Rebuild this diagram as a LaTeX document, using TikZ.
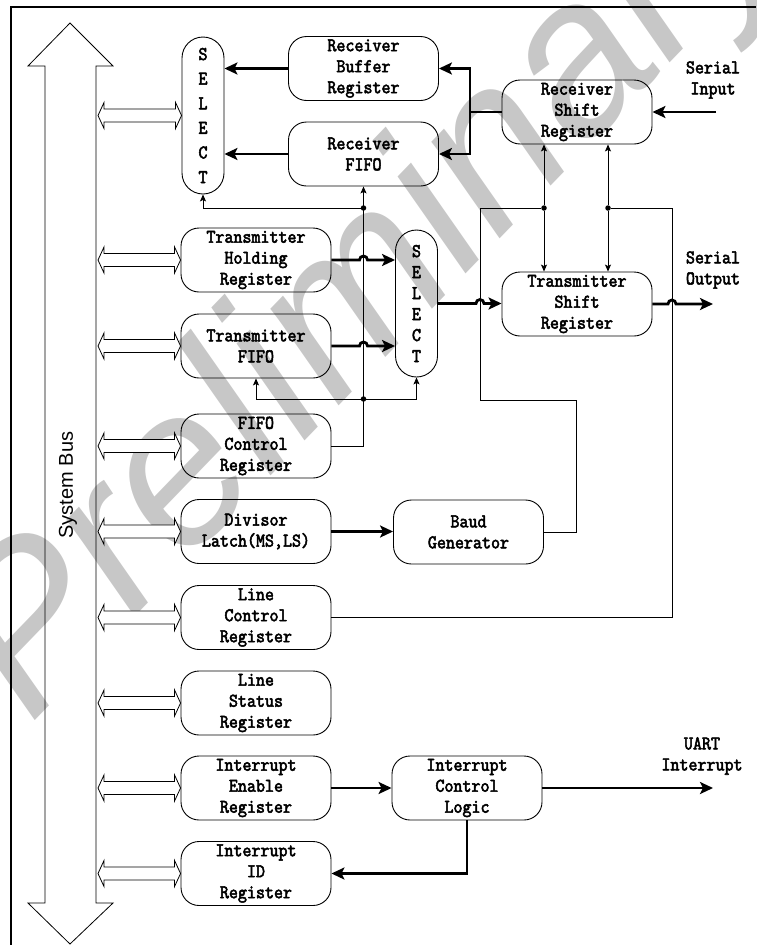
\documentclass[tikz,border=0pt]{standalone}
\usepackage{fontspec}
\setsansfont{Liberation Sans}
\newfontfamily\regfont{lmmono10-regular.otf}[FakeStretch=0.88,FakeBold=2.6]
\usetikzlibrary{arrows.meta,calc}

\tikzset{
  reg/.style={draw, line width=0.9pt, rounded corners=18pt, minimum width=150pt,
    minimum height=64pt, inner sep=0pt, align=center,
    font=\regfont\fontsize{19.5}{21}\selectfont},
  selbox/.style={reg, rounded corners=21pt, minimum width=42pt},
  lbl/.style={align=center, inner sep=0pt, font=\regfont\fontsize{19.5}{21}\selectfont},
  bigline/.style={line width=2.8pt},
  bigtip/.tip={Stealth[length=13pt,width=12pt,inset=3pt]},
  bigarrow/.style={bigline, -bigtip},
  thinline/.style={line width=0.8pt},
  thinarrow/.style={thinline, -{Stealth[length=7pt,width=6pt,inset=1.5pt]}},
  dot/.style={circle, fill, inner sep=0pt, minimum size=5.5pt}
}

\begin{document}
\begin{tikzpicture}[x=1pt,y=-1pt]
\useasboundingbox (0,0) rectangle (756,945);
% watermark
\node[text=black!22, font=\sffamily\itshape\fontsize{220}{220}\selectfont, rotate=46] (wmark) at (372,290) {Preliminary};
% frame
\draw[line width=2pt] (11,945) -- (11,7) -- (756,7);
% system bus
\draw[line width=0.8pt] (70,23) -- (113,66) -- (96,66) -- (96,903) -- (113,903) -- (70,944)
  -- (28,903) -- (45,903) -- (45,66) -- (28,66) -- cycle;
\node[font=\sffamily\fontsize{20}{20}\selectfont, rotate=90] (buslbl) at (68,485) {System Bus};
\coordinate (bus) at (98,0);

% registers
\node[selbox, minimum height=157pt, font=\regfont\fontsize{19.5}{24.6}\selectfont] (selR) at (203,115.5) {S\\E\\L\\E\\C\\T};
\node[reg] (rbr) at (363.5,68.5) {Receiver\\Buffer\\Register};
\node[reg] (rfifo) at (363.5,154) {Receiver\\FIFO};
\node[reg] (rsr) at (577,112) {Receiver\\Shift\\Register};
\node[reg] (thr) at (256,260) {Transmitter\\Holding\\Register};
\node[reg] (tfifo) at (256,346) {Transmitter\\FIFO};
\node[reg] (fcr) at (256,446) {FIFO\\Control\\Register};
\node[reg] (dll) at (256,531.5) {Divisor\\Latch(MS,LS)};
\node[reg] (lcr) at (256,617.5) {Line\\Control\\Register};
\node[reg] (lsr) at (256,703) {Line\\Status\\Register};
\node[reg] (ier) at (256,788) {Interrupt\\Enable\\Register};
\node[reg] (iid) at (256,873.5) {Interrupt\\ID\\Register};
\node[selbox, minimum height=147pt] (selT) at (416.5,303.5) {S\\E\\L\\E\\C\\T};
\node[reg] (tsr) at (577,304) {Transmitter\\Shift\\Register};
\node[reg] (baud) at (468.5,532) {Baud\\Generator};
\node[reg] (icl) at (467,788) {Interrupt\\Control\\Logic};

% outside labels
\node[lbl] (sinlbl) at (713,80) {Serial\\Input};
\node[lbl] (soutlbl) at (713,270) {Serial\\Output};
\node[lbl] (uartlbl) at (702,756) {UART\\Interrupt};
\coordinate (serin) at (716,112);
\coordinate (serout) at (713,304);
\coordinate (uartout) at (713,788);

% helper points
\coordinate (rsplit) at (470,0);
\coordinate (ck1) at (544,208);
\coordinate (ck2) at (608,208);
\coordinate (bturn) at (576,400);
\coordinate (bleft) at (480,400);
\coordinate (lup) at (672,208);
\node[dot] (d1) at (363.5,208) {};
\node[dot] (d2) at (363.5,399) {};
\node[dot] (d3) at (ck1) {};
\node[dot] (d4) at (ck2) {};
\coordinate (j1) at (thr.east -| rfifo.south);
\coordinate (j2) at (tfifo.east -| rfifo.south);
\coordinate (j3) at (selT.east -| bleft);
\coordinate (j4) at (tsr.east -| lup);

% bus links
\foreach \n in {selR,thr,tfifo,fcr,dll,lcr,lsr,ier,iid}
  \draw[thinline, fill=white] (bus |- \n.west) -- ++(6,-13) -- ++(0,6.5) -- ($(\n.west)+(-6,-6.5)$)
    -- ++(0,-6.5) -- (\n.west) -- ++(-6,13) -- ++(0,-6.5) -- ($(bus |- \n.west)+(6,6.5)$) -- ++(0,6.5) -- cycle;

% receive path
\draw[bigarrow] (rbr.west) -- (rbr.west -| selR.east);
\draw[bigarrow] (rfifo.west) -- (rfifo.west -| selR.east);
\draw[bigline] (rsr.west) -- (rsr.west -| rsplit);
\draw[bigline, bigtip-bigtip] (rbr.east) -| (rsplit |- rfifo.east) -- (rfifo.east);
\draw[bigarrow] (serin) -- (rsr.east);

% transmit path
\draw[bigarrow] (thr.east) -- ([xshift=-4pt]j1) arc[start angle=180, end angle=360, radius=4] -- (selT.west |- thr.east);
\draw[bigarrow] (tfifo.east) -- ([xshift=-4pt]j2) arc[start angle=180, end angle=360, radius=4] -- (selT.west |- tfifo.east);
\draw[bigarrow] (selT.east) -- ([xshift=-4pt]j3) arc[start angle=180, end angle=360, radius=4] -- (tsr.west |- selT.east);
\draw[bigarrow] (tsr.east) -- ([xshift=-4pt]j4) arc[start angle=180, end angle=360, radius=4] -- (serout);

% fifo control
\draw[thinarrow] (fcr.east) -| (rfifo.south);
\draw[thinarrow] (d1) -| (selR.south);
\draw[thinarrow] (d2) -| (tfifo.south);
\draw[thinarrow] (d2) -| (selT.south);

% clocks
\draw[thinarrow] (d3) -- (ck1 |- rsr.south);
\draw[thinarrow] (d3) -- (ck1 |- tsr.north);
\draw[thinarrow] (d4) -- (ck2 |- rsr.south);
\draw[thinarrow] (d4) -- (ck2 |- tsr.north);
\draw[thinline] (baud.east) -| (bturn) -- (bleft) |- (d3);
\draw[thinline] (lcr.east) -| (lup) -- (d4);

% baud and interrupts
\draw[bigarrow] (dll.east) -- (dll.east -| baud.west);
\draw[bigarrow] (ier.east) -- (icl.west);
\draw[bigarrow] (icl.east) -- (uartout);
\draw[bigarrow] (icl.south) |- (iid.east);
\end{tikzpicture}
\end{document}
